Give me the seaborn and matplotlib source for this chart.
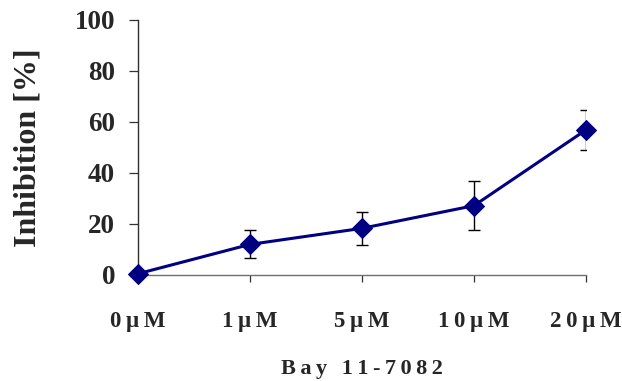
import numpy as np
import pandas as pd
import matplotlib
matplotlib.use('Agg')
import matplotlib.pyplot as plt
import seaborn as sns

# data
doses = ['0µM', '1µM', '5µM', '10µM', '20µM']
inhibition = [0.5, 12.0, 18.3, 27.2, 56.9]
err = [0.0, 5.5, 6.5, 9.7, 7.9]
y_ticks = [0, 20, 40, 60, 80, 100]

sns.set_style('white')
plt.rcParams['font.family'] = ['Liberation Serif', 'DejaVu Serif']
plt.rcParams['font.weight'] = 'bold'

THIN = '\u2009'


def spaced(s, gap=THIN):
    return gap.join(list(s))


df = pd.DataFrame({'pos': np.arange(len(doses)), 'inh': inhibition, 'err': err})

fig = plt.figure(figsize=(6.22, 3.81), dpi=100)
ax = fig.add_axes([138 / 622, 1 - 275 / 381, 448 / 622, 255 / 381])

# error bars first, then the line with diamonds on top
ax.errorbar(df['pos'][1:], df['inh'][1:], yerr=df['err'][1:], fmt='none',
            ecolor='black', elinewidth=1.0, capsize=4, capthick=1.0, zorder=2)
sns.lineplot(data=df, x='pos', y='inh', ax=ax, color='#000080', linewidth=2.2,
             marker='D', markersize=10.5, markeredgecolor='#000080', zorder=3,
             clip_on=False)

ax.set_xlim(0, len(doses) - 1)
ax.set_ylim(0, 100)
ax.set_yticks(y_ticks)
ax.set_yticklabels([str(v) for v in y_ticks], fontsize=19.5, fontweight='bold')
ax.set_xticks(df['pos'])
ax.set_xticklabels([spaced(d) for d in doses], fontsize=16.5, fontweight='bold')

for side in ['top', 'right']:
    ax.spines[side].set_visible(False)
ax.spines['left'].set_color('#303030')
ax.spines['bottom'].set_color('#707070')
for side in ['left', 'bottom']:
    ax.spines[side].set_linewidth(1.0)

ax.tick_params(axis='y', direction='out', length=6.5, width=0.9, color='#333333', pad=10, left=True)
ax.tick_params(axis='x', direction='out', length=5, width=0.9, color='#333333', pad=21, bottom=True)

ax.set_ylabel('Inhibition [%]', fontsize=23, fontweight='bold', va='center')
ax.yaxis.set_label_coords(-0.2455, 0.5)
ax.set_xlabel(spaced('Bay 11-7082'), fontsize=16, fontweight='bold', va='center')
ax.xaxis.set_label_coords(0.5, -0.37)

fig.savefig('out.png', dpi=100)
